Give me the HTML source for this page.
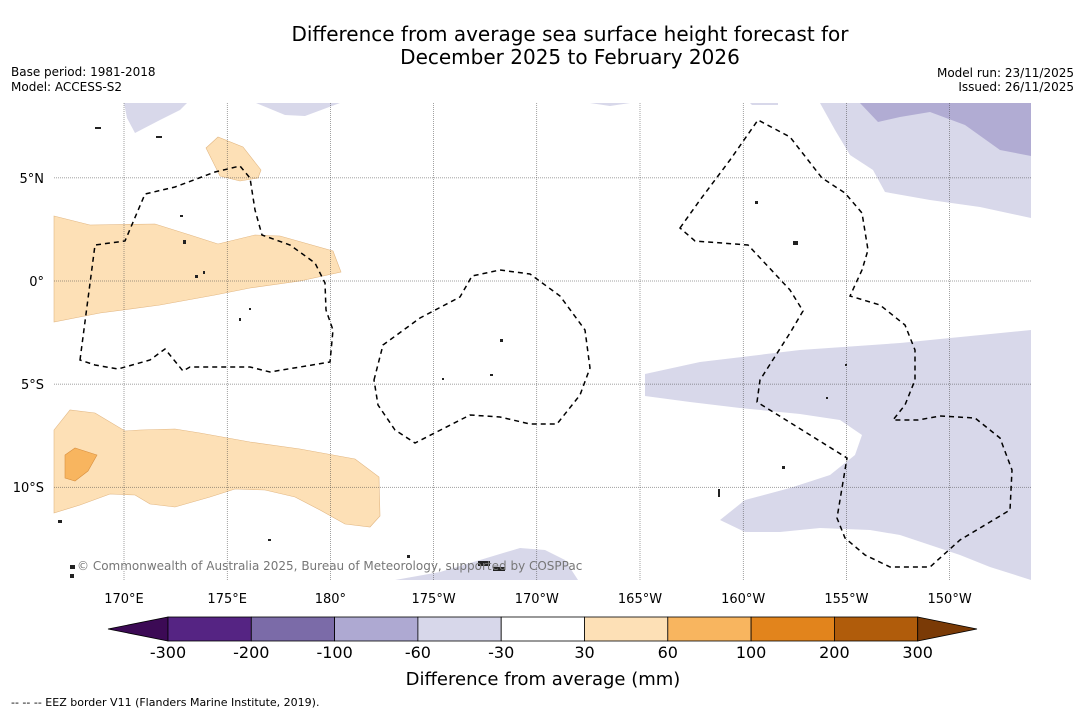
<!DOCTYPE html>
<html><head><meta charset="utf-8"><style>
body{margin:0;background:#fff;width:1085px;height:713px;overflow:hidden;font-family:"DejaVu Sans","Liberation Sans",sans-serif}
svg{display:block;font-family:"DejaVu Sans","Liberation Sans",sans-serif}
</style></head><body>
<svg id="c" width="1085" height="713">
<text x="570" y="41" text-anchor="middle" font-size="20">Difference from average sea surface height forecast for</text>
<text x="570" y="64" text-anchor="middle" font-size="20">December 2025 to February 2026</text>
<text x="11" y="76" font-size="12">Base period: 1981-2018</text>
<text x="11" y="91" font-size="12">Model: ACCESS-S2</text>
<text x="1074" y="77" font-size="12" text-anchor="end">Model run: 23/11/2025</text>
<text x="1074" y="91" font-size="12" text-anchor="end">Issued: 26/11/2025</text>
<g id="map">
<rect x="54" y="103" width="977" height="477" fill="#fff"/>
<g fill="#fde0b6" stroke="#e2b783" stroke-width="0.6">
<polygon points="54,216 90,225 155,224 190,235 218,244 255,235 280,236 333,251 341,272 300,281 250,288 215,295 160,305 100,313 54,322"/>
<polygon points="206,148 218,137 243,147 261,170 258,178 240,181 220,176"/>
<polygon points="54,430 70,410 95,413 125,431 140,430 175,429 200,433 250,442 300,449 355,459 379,477 380,516 370,527 345,524 320,510 295,497 265,490 235,489 210,497 175,507 150,504 135,495 110,494 80,505 54,513"/>
</g>
<polygon points="65,455 75,448 97,455 88,471 75,481 65,478" fill="#f8b55f" stroke="#d89040" stroke-width="0.6"/>
<g fill="#d8d8ea">
<polygon points="820,103 1031,103 1031,218 980,207 930,200 885,192 873,170 850,155 835,130"/>
<polygon points="124,103 187,103 180,110 160,120 135,133 127,118"/>
<polygon points="256,103 340,103 305,116 285,115"/>
<polygon points="590,103 630,103 610,106"/>
<polygon points="750,103 778,103 778,105 752,105"/>
<polygon points="645,374 700,362 800,350 900,343 1031,330 1031,580 990,567 960,555 930,545 900,535 870,530 820,528 780,532 745,532 720,520 745,500 790,488 830,475 855,455 862,435 840,420 800,414 740,408 690,402 645,396"/>
<polygon points="395,580 440,572 480,560 520,548 545,550 565,560 578,580"/>
</g>
<polygon points="860,103 1031,103 1031,156 1000,150 965,125 930,112 900,117 878,122" fill="#b1acd3"/>
<g id="grid" stroke="#444" stroke-width="0.5" stroke-dasharray="1,1"></g>
<g fill="none" stroke="#000" stroke-width="1.5" stroke-dasharray="5,4">
<polygon points="80,360 95,245 125,241 145,194 175,187 215,172 240,166 250,178 255,210 262,235 290,245 315,263 325,283 326,310 333,330 330,362 270,372 250,367 190,367 183,371 165,349 150,360 118,369 95,365"/>
<polygon points="374,380 383,345 420,318 460,297 472,276 500,270 530,274 560,296 585,330 590,368 580,395 557,424 530,424 500,417 470,415 415,443 395,430 378,405"/>
<polygon points="680,228 700,200 730,160 758,120 790,137 822,178 845,193 862,213 868,250 862,270 850,296 880,305 905,325 915,350 915,380 905,405 893,420 918,420 940,416 975,418 1000,438 1012,470 1010,510 990,522 960,540 930,567 890,567 865,555 845,538 837,518 847,458 757,402 760,380 790,333 803,311 790,290 748,245 695,241"/>
</g>
<g fill="#222">
<rect x="183" y="240" width="3" height="4"/><rect x="195" y="275" width="3" height="3"/><rect x="203" y="271" width="2" height="3"/>
<rect x="180" y="215" width="3" height="2"/><rect x="156" y="136" width="6" height="2"/><rect x="95" y="127" width="6" height="2"/>
<rect x="500" y="339" width="3" height="3"/><rect x="490" y="374" width="3" height="2"/><rect x="442" y="378" width="2" height="2"/>
<rect x="755" y="201" width="3" height="3"/><rect x="793" y="241" width="5" height="4"/><rect x="782" y="466" width="3" height="3"/>
<rect x="718" y="489" width="2" height="8"/><rect x="58" y="520" width="4" height="3"/><rect x="478" y="561" width="12" height="5"/>
<rect x="493" y="567" width="12" height="4"/><rect x="70" y="565" width="5" height="4"/><rect x="70" y="574" width="4" height="4"/>
<rect x="268" y="539" width="3" height="2"/><rect x="407" y="555" width="3" height="3"/><rect x="826" y="397" width="2" height="2"/>
<rect x="845" y="364" width="2" height="2"/><rect x="239" y="318" width="2" height="3"/><rect x="249" y="308" width="2" height="2"/>
</g>
<text x="77" y="570" font-size="12" fill="#777">© Commonwealth of Australia 2025, Bureau of Meteorology, supported by COSPPac</text>
</g>
<g id="axes"></g>
<g id="cbar"></g>
<text x="543" y="685" text-anchor="middle" font-size="18">Difference from average (mm)</text>
<text x="11" y="706" font-size="11">--  --  -- EEZ border V11 (Flanders Marine Institute, 2019).</text>
</svg>
<script>
const lonTicks=[170,175,180,185,190,195,200,205,210];
const lonLabels=["170°E","175°E","180°","175°W","170°W","165°W","160°W","155°W","150°W"];
const latTicks=[5,0,-5,-10];
const latLabels=["5°N","0°","5°S","10°S"];
const cbColors=["#3c0a55","#552483","#7b6ba8","#aea9d2","#d7d7ea","#ffffff","#fde0b6","#f8b55f","#e2841c","#b05c0b","#7a3a06"];
const cbLabels=["-300","-200","-100","-60","-30","30","60","100","200","300"];
const NS="http://www.w3.org/2000/svg";
const X=lon=>124+(lon-170)*20.64, Y=lat=>281-lat*20.62;
function mk(t,a,p){const e=document.createElementNS(NS,t);for(const k in a)e.setAttribute(k,a[k]);p.appendChild(e);return e;}
const grid=document.getElementById('grid'),axes=document.getElementById('axes');
lonTicks.forEach((l,i)=>{const x=X(l);
const g=mk('line',{x1:x,x2:x,y1:103,y2:580},grid);


const t=mk('text',{x:x,y:603,'text-anchor':'middle','font-size':13},axes);t.textContent=lonLabels[i];

});
latTicks.forEach((l,i)=>{const y=Y(l);
const g=mk('line',{x1:54,x2:1031,y1:y,y2:y},grid);


const t=mk('text',{x:44,y:y+5,'text-anchor':'end','font-size':13},axes);t.textContent=latLabels[i];

});
const cb=document.getElementById('cbar');const x0=168,w=83.3,y0=617,h=24;
cbColors.forEach((c,i)=>{let e;
if(i===0)e=mk('polygon',{points:`108,${y0+h/2} ${x0},${y0} ${x0},${y0+h}`,fill:c,stroke:'#000','stroke-width':0.8},cb);
else if(i===cbColors.length-1){const xe=x0+w*(cbColors.length-2);e=mk('polygon',{points:`${xe},${y0} 977,${y0+h/2} ${xe},${y0+h}`,fill:c,stroke:'#000','stroke-width':0.8},cb);}
else e=mk('rect',{x:x0+w*(i-1),y:y0,width:w,height:h,fill:c,stroke:'#000','stroke-width':0.8},cb);

});
cbLabels.forEach((s,i)=>{const t=mk('text',{x:x0+w*i,y:658,'text-anchor':'middle','font-size':16},cb);t.textContent=s;

});
</script>
</body></html>
